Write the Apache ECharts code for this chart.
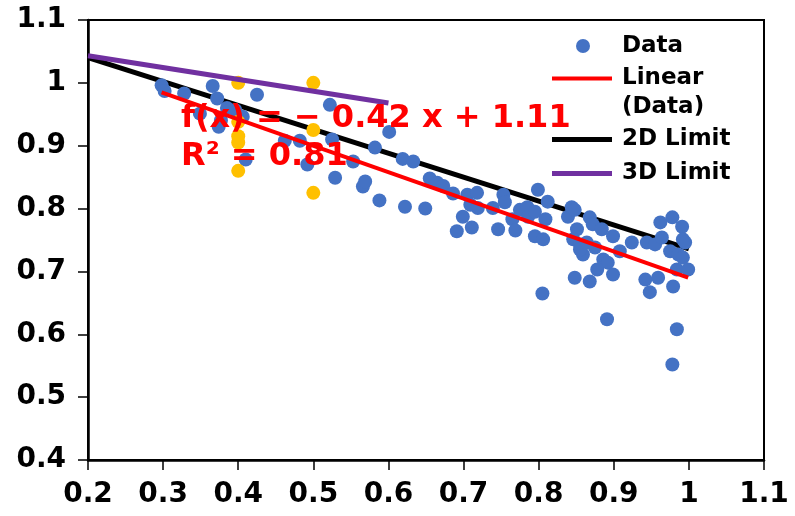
<!DOCTYPE html>
<html>
<head>
<meta charset="utf-8">
<script src="https://cdn.jsdelivr.net/npm/echarts@6/dist/echarts.min.js"></script>
<style>
  html, body { margin: 0; padding: 0; background: #fff; }
  #content { width: 795px; height: 516px; }
</style>
</head>
<body>
<div id="content"></div>
<script>
// measured points (x, y)
var dataPoints = [
    [0.298, 0.996], [0.302, 0.987], [0.328, 0.983], [0.349, 0.951], [0.366, 0.995],
    [0.372, 0.975], [0.374, 0.930], [0.377, 0.940], [0.385, 0.960], [0.396, 0.957],
    [0.406, 0.946], [0.410, 0.878], [0.425, 0.981], [0.462, 0.908], [0.482, 0.908],
    [0.492, 0.870], [0.522, 0.965], [0.525, 0.910], [0.529, 0.849], [0.553, 0.875],
    [0.566, 0.835], [0.569, 0.843], [0.582, 0.897], [0.588, 0.813], [0.601, 0.922],
    [0.619, 0.879], [0.633, 0.875], [0.622, 0.803], [0.649, 0.800], [0.655, 0.848],
    [0.665, 0.841], [0.673, 0.836], [0.686, 0.824], [0.691, 0.764], [0.699, 0.787],
    [0.705, 0.822], [0.709, 0.806], [0.711, 0.770], [0.718, 0.825], [0.719, 0.801],
    [0.739, 0.801], [0.746, 0.767], [0.753, 0.822], [0.755, 0.810], [0.765, 0.783],
    [0.769, 0.765], [0.775, 0.798], [0.785, 0.802], [0.786, 0.787], [0.795, 0.795],
    [0.799, 0.830], [0.812, 0.811], [0.809, 0.783], [0.795, 0.756], [0.806, 0.751],
    [0.805, 0.665], [0.839, 0.787], [0.844, 0.802], [0.848, 0.798], [0.851, 0.767],
    [0.846, 0.751], [0.855, 0.743], [0.859, 0.727], [0.855, 0.735], [0.864, 0.746],
    [0.868, 0.786], [0.872, 0.775], [0.875, 0.738], [0.884, 0.767], [0.886, 0.719],
    [0.892, 0.714], [0.878, 0.703], [0.899, 0.756], [0.899, 0.695], [0.868, 0.684],
    [0.848, 0.690], [0.908, 0.732], [0.924, 0.746], [0.891, 0.624], [0.942, 0.687],
    [0.944, 0.746], [0.955, 0.743], [0.948, 0.667], [0.959, 0.690], [0.962, 0.778],
    [0.964, 0.754], [0.975, 0.732], [0.978, 0.786], [0.979, 0.676], [0.984, 0.703],
    [0.986, 0.727], [0.991, 0.771], [0.992, 0.751], [0.992, 0.722], [0.999, 0.703],
    [0.995, 0.746], [0.984, 0.608], [0.978, 0.552]
];
var otherPoints = [
    [0.4, 1.000], [0.5, 1.000], [0.4, 0.938], [0.4, 0.915], [0.4, 0.905],
    [0.4, 0.860], [0.5, 0.925], [0.5, 0.825]
];
var linearFit = [[0.298, 0.985], [0.999, 0.690]];
var limit2D = [[0.2, 1.040], [1.0, 0.736]];
var limit3D = [[0.2, 1.043], [0.6, 0.968]];
var fitText = 'f(x) = − 0.42 x + 1.11\nR² = 0.81';

var element = document.getElementById('content');
var myChart = echarts.init(element);

var font = 'DejaVu Sans';
var legendText = {
    fontFamily: font,
    fontWeight: 'bold',
    fontSize: 23,
    lineHeight: 29,
    color: '#000',
    padding: [0, 0, 0, 5]
};

// one legend block per entry so each row sits where the reference has it
function lineLegend(name, top, h, label) {
    return {
        data: [name],
        left: 552,
        top: top,
        padding: 0,
        icon: 'rect',
        itemWidth: 60,
        itemHeight: h,
        selectedMode: false,
        formatter: label ? function() { return label; } : null,
        textStyle: legendText
    };
}

var option = {
    animation: false,
    grid: {
        left: 88,
        right: 31,
        top: 20,
        bottom: 56,
        show: true,
        borderColor: '#000',
        borderWidth: 2
    },
    xAxis: {
        type: 'value',
        min: 0.2,
        max: 1.1,
        interval: 0.1,
        axisLine: { lineStyle: { color: '#000', width: 2.5 } },
        axisTick: { length: 10, lineStyle: { color: '#000', width: 1.5 } },
        splitLine: { show: false },
        axisLabel: {
            margin: 21,
            color: '#000',
            fontFamily: font,
            fontWeight: 'bold',
            fontSize: 28
        }
    },
    yAxis: {
        type: 'value',
        min: 0.4,
        max: 1.1,
        interval: 0.1,
        axisLine: { show: true, lineStyle: { color: '#000', width: 2.5 } },
        axisTick: { show: true, length: 10, lineStyle: { color: '#000', width: 1.5 } },
        splitLine: { show: false },
        axisLabel: {
            margin: 22,
            color: '#000',
            fontFamily: font,
            fontWeight: 'bold',
            fontSize: 28
        }
    },
    legend: [
        {
            data: ['Data'],
            left: 576,
            top: 31.5,
            padding: 0,
            itemWidth: 14,
            itemHeight: 14,
            selectedMode: false,
            textStyle: Object.assign({}, legendText, { padding: [0, 0, 0, 27] })
        },
        lineLegend('Linear (Data)', 64, 4, 'Linear'),
        lineLegend('2D Limit', 125, 5),
        lineLegend('3D Limit', 159, 5)
    ],
    series: [
        {
            name: '2D Limit',
            type: 'line',
            z: 1,
            symbol: 'none',
            lineStyle: { color: '#000', width: 5 },
            itemStyle: { color: '#000' },
            data: limit2D
        },
        {
            name: 'Data',
            type: 'scatter',
            z: 2,
            symbol: 'circle',
            symbolSize: 14,
            itemStyle: { color: '#4472C4', opacity: 1 },
            data: dataPoints
        },
        {
            name: 'Other',
            type: 'scatter',
            z: 2,
            symbol: 'circle',
            symbolSize: 14,
            itemStyle: { color: '#FFC000', opacity: 1 },
            data: otherPoints
        },
        {
            name: '3D Limit',
            type: 'line',
            z: 3,
            symbol: 'none',
            lineStyle: { color: '#7030A0', width: 5 },
            itemStyle: { color: '#7030A0' },
            data: limit3D
        },
        {
            name: 'Linear (Data)',
            type: 'line',
            z: 4,
            symbol: 'none',
            lineStyle: { color: '#FF0000', width: 4 },
            itemStyle: { color: '#FF0000' },
            data: linearFit
        }
    ],
    graphic: [
        {
            type: 'text',
            left: 181,
            top: 100,
            z: 100,
            style: {
                text: fitText,
                fill: '#FF0000',
                fontFamily: font,
                fontWeight: 'bold',
                fontSize: 32,
                lineHeight: 38
            }
        },
        {
            // second line of the "Linear (Data)" legend label
            type: 'text',
            left: 622,
            top: 93,
            style: {
                text: '(Data)',
                fill: '#000',
                fontFamily: font,
                fontWeight: 'bold',
                fontSize: 23,
                lineHeight: 29
            }
        }
    ]
};
myChart.setOption(option);
</script>
</body>
</html>
